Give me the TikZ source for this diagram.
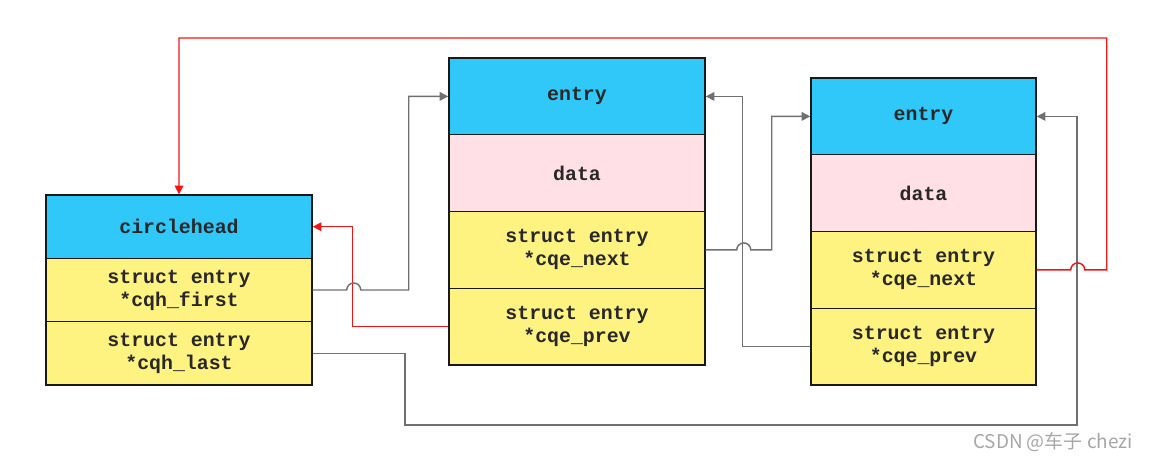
\documentclass[tikz,border=0pt]{standalone}
\usepackage{fontspec}
\setmonofont{Liberation Mono}
\newfontfamily\cjkfont{Noto Sans CJK SC}
\usetikzlibrary{arrows.meta}
\definecolor{cblue}{RGB}{48,200,248}
\definecolor{cpink}{RGB}{254,224,230}
\definecolor{cyell}{RGB}{254,242,128}
\definecolor{cgray}{RGB}{112,112,112}
\definecolor{cred}{RGB}{245,20,20}
\definecolor{ctext}{RGB}{40,40,40}
\begin{document}
\begin{tikzpicture}[x=0.75pt,y=0.75pt,
  cell/.style={draw=black!90,line width=1.1pt,rectangle,inner sep=0pt,align=center,
    text=ctext,font=\ttfamily\bfseries\fontsize{14.9}{17.3}\selectfont},
  lcell/.style={cell,minimum width=199.5pt,minimum height=47.5pt},
  mcell/.style={cell,minimum width=192pt,minimum height=57.56pt},
  rcell/.style={cell,minimum width=168.75pt,minimum height=57.56pt},
  glink/.style={draw=cgray,line width=1.1pt},
  rlink/.style={draw=cred,line width=1.1pt},
  tip/.style={-{Triangle[length=6.5pt,width=6.5pt]}}]
\useasboundingbox (0,0) rectangle (1149,-462);
% left box
\node[lcell,fill=cblue] (lhead) at (179,-226.7) {circlehead};
\node[lcell,fill=cyell] (lfirst) at (179,-290) {struct entry\\*cqh\_first};
\node[lcell,fill=cyell] (llast) at (179,-353.3) {struct entry\\*cqh\_last};
% middle box
\node[mcell,fill=cblue] (mhead) at (577,-96.4) {entry};
\node[mcell,fill=cpink] (mdata) at (577,-173.1) {data};
\node[mcell,fill=cyell] (mnext) at (577,-249.9) {struct entry\\*cqe\_next};
\node[mcell,fill=cyell] (mprev) at (577,-326.6) {struct entry\\*cqe\_prev};
% right box
\node[rcell,fill=cblue] (rhead) at (923.5,-116.4) {entry};
\node[rcell,fill=cpink] (rdata) at (923.5,-193.1) {data};
\node[rcell,fill=cyell] (rnext) at (923.5,-269.9) {struct entry\\*cqe\_next};
\node[rcell,fill=cyell] (rprev) at (923.5,-346.6) {struct entry\\*cqe\_prev};
% connectors
\draw[glink,tip] (rprev.west) -- ++(-68,0) |- (mhead.east);
\draw[glink,tip] (llast.east) -| (405,-425) -- (1077,-425) |- (rhead.east);
\draw[rlink,tip] (mprev.west) -- ++(-96,0) |- (lhead.east);
\draw[glink,tip] (lfirst.east) -- ++(34,0) arc[start angle=180,end angle=0,radius=7] -- ++(48,0) |- (mhead.west);
\draw[glink,tip] (mnext.east) -- ++(31,0) arc[start angle=180,end angle=0,radius=7] -- ++(21,0) |- (rhead.west);
\draw[rlink,tip] (rnext.east) -- ++(34,0) arc[start angle=180,end angle=0,radius=7] -- ++(22,0) |- (179,-38) -- (lhead.north);
% watermark
\node[text=black!35,font=\cjkfont\fontsize{14.2}{16}\selectfont] (wm) at (1053,-442) {CSDN @车子 chezi};
\end{tikzpicture}
\end{document}
